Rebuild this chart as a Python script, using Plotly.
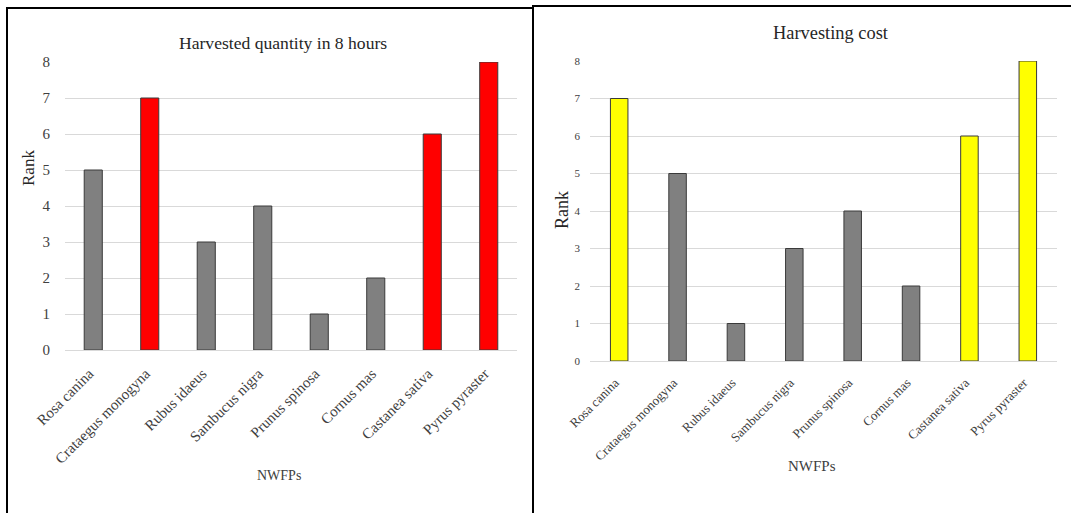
import plotly.graph_objects as go

W, H = 1071, 513

categories = ["Rosa canina", "Crataegus monogyna", "Rubus idaeus", "Sambucus nigra",
              "Prunus spinosa", "Cornus mas", "Castanea sativa", "Pyrus pyraster"]
quantity_rank = [5, 7, 3, 4, 1, 2, 6, 8]
cost_rank = [7, 5, 1, 3, 4, 2, 6, 8]
quantity_highlight = [False, True, False, False, False, False, True, True]
cost_highlight = [True, False, False, False, False, False, True, True]
y_ticks = [0, 1, 2, 3, 4, 5, 6, 7, 8]

GRAY = "#808080"
RED = "#ff0000"
YELLOW = "#ffff00"
FONT = "Liberation Serif"

def px(x):
    return x / W

def py(y):
    return (H - y) / H

fig = go.Figure()

fig.add_trace(go.Bar(
    x=categories, y=quantity_rank,
    marker=dict(color=[RED if h else GRAY for h in quantity_highlight],
                line=dict(color="#3a3a3a", width=1)),
    width=0.32, xaxis="x", yaxis="y", showlegend=False, hoverinfo="x+y"))

fig.add_trace(go.Bar(
    x=categories, y=cost_rank,
    marker=dict(color=[YELLOW if h else GRAY for h in cost_highlight],
                line=dict(color="#3a3a3a", width=1)),
    width=0.30, xaxis="x2", yaxis="y2", showlegend=False, hoverinfo="x+y"))

yaxis_common = dict(range=[0, 8], tickvals=y_ticks, showgrid=True, gridcolor="#d9d9d9",
                    gridwidth=1, zeroline=False, showline=False, ticks="", automargin=False)
xaxis_common = dict(tickangle=-45, showline=True, linecolor="#d9d9d9", linewidth=1,
                    ticks="", showgrid=False, automargin=False, zeroline=False,
                    ticklabelstandoff=8, ticklabelshift=-4)

fig.update_layout(
    template="none",
    autosize=False,
    width=W, height=H,
    margin=dict(l=0, r=0, t=0, b=0, pad=0),
    paper_bgcolor="white", plot_bgcolor="white",
    font=dict(family=FONT, color="#404040"),
    xaxis=dict(domain=[px(65), px(517)], anchor="y",
               tickfont=dict(family=FONT, size=15, color="#404040"), **xaxis_common),
    yaxis=dict(domain=[py(350), py(62)], anchor="x", ticklabelstandoff=14,
               tickfont=dict(family=FONT, size=15, color="#404040"), **yaxis_common),
    xaxis2=dict(domain=[px(590), px(1057)], anchor="y2",
                tickfont=dict(family=FONT, size=13, color="#404040"), **xaxis_common),
    yaxis2=dict(domain=[py(361), py(61)], anchor="x2", ticklabelstandoff=9,
                tickfont=dict(family=FONT, size=11, color="#404040"), **yaxis_common),
)

def add_text(x, y, text, size, color="#262626", angle=0):
    fig.add_annotation(x=px(x), y=py(y), text=text, textangle=angle,
                       xref="paper", yref="paper", xanchor="center", yanchor="middle",
                       showarrow=False, font=dict(family=FONT, size=size, color=color))

add_text(283, 43, "Harvested quantity in 8 hours", 17.6)
add_text(830, 33, "Harvesting cost", 18.4)
add_text(28, 168, "Rank", 17, angle=-90)
add_text(562, 210, "Rank", 18, angle=-90)
add_text(279, 475, "NWFPs", 14, color="#404040")
add_text(812, 466, "NWFPs", 15, color="#404040")

# panel borders
fig.add_shape(type="rect", xref="paper", yref="paper",
              x0=px(7), y0=py(520), x1=px(533), y1=py(8),
              line=dict(color="black", width=2))
fig.add_shape(type="rect", xref="paper", yref="paper",
              x0=px(533), y0=py(520), x1=px(1080), y1=py(6),
              line=dict(color="black", width=2))

fig.write_html("out.html",
               config={"displayModeBar": False},
               post_script="document.body.style.margin='0';document.body.style.overflow='hidden';")
